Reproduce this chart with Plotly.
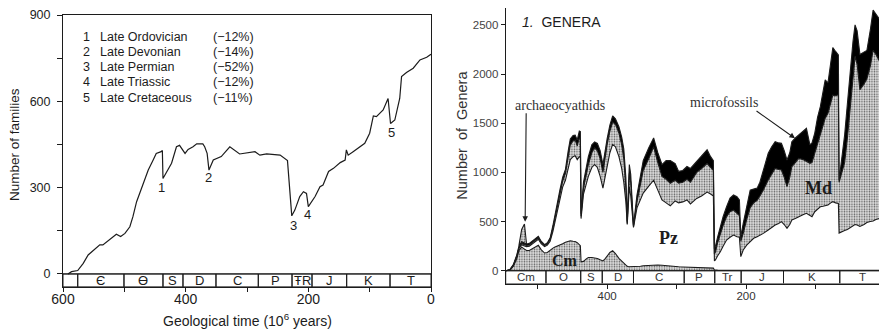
import plotly.graph_objects as go

# ---------------- Left panel: marine families ----------------
fam_ma = [592, 586, 576, 567, 559, 551, 540, 535, 524, 513, 506, 499, 491, 486, 480, 475, 467, 461,
          453, 448, 440, 438, 437, 431, 423, 415, 410, 401, 396, 388, 382, 372, 369, 365, 362, 355,
          342, 328, 312, 287, 279, 268, 246, 234, 231, 227, 222, 214, 208, 203, 200, 189, 181, 176,
          167, 159, 148, 140, 138, 135, 127, 108, 100, 94, 89, 78, 70, 66, 59, 51, 48, 40, 29, 18, 7, 0]
fam_n = [0, 8, 12, 37, 66, 81, 101, 101, 118, 138, 130, 141, 164, 199, 251, 280, 327, 361,
         396, 419, 425, 429, 332, 356, 385, 442, 447, 419, 433, 442, 452, 452, 442, 419, 361, 396,
         408, 442, 417, 425, 413, 417, 413, 394, 303, 202, 222, 269, 286, 280, 234, 269, 303, 309,
         356, 367, 387, 396, 431, 413, 425, 454, 489, 549, 547, 570, 610, 523, 535, 610, 686, 700, 715, 744, 753, 764]

events_no = ["1", "2", "3", "4", "5"]
events_ma = [438.6, 362, 225, 202, 65]
events_n = [302, 334, 170, 205, 493]
events_name = ["Late Ordovician", "Late Devonian", "Late Permian", "Late Triassic", "Late Cretaceous"]
events_pct = ["(\u221212%)", "(\u221214%)", "(\u221252%)", "(\u221212%)", "(\u221211%)"]

left_bounds = [600, 576, 500.6, 437, 404.4, 350.6, 281.6, 226.6, 194, 137.5, 66.8, 0]
left_periods = ["", "\u0404", "\u019f", "S", "D", "C", "P", "\u0166R", "J", "K", "T"]

# ---------------- Right panel: genera by evolutionary fauna ----------------
gen_ma = [546, 540, 535, 530, 527, 523, 520, 516, 512, 508, 503, 499, 495, 490, 486, 482, 478, 475, 471, 468,
          464, 460, 456, 453, 449, 446, 443, 440, 438.5, 437.5, 434, 430, 427, 422, 418, 414, 410, 406, 403, 400,
          396, 392, 388, 383, 379, 376, 373, 371, 369, 368, 366, 364, 362, 357, 352, 348, 340, 333, 327, 321,
          315, 309, 302, 297, 291, 285, 280, 271, 264, 256, 251, 247, 245.5, 244, 241, 237, 233, 228, 223, 218,
          213, 209.5, 207.5, 204, 199, 194, 189, 184, 180, 175, 168, 163, 158, 153, 149, 145, 141, 137, 134, 129,
          124, 118, 113, 108, 105, 101, 97, 93, 89, 86, 82, 78, 75, 71, 67, 66, 62, 58, 54, 50,
          46, 43, 40, 36, 30, 26, 21, 17, 13, 8, 4, 0]
cm_top = [0, 6, 45, 120, 205, 240, 225, 205, 205, 220, 245, 258, 215, 180, 185, 210, 230, 240, 250, 260,
          275, 290, 300, 305, 300, 298, 285, 265, 255, 90, 95, 120, 135, 135, 130, 125, 112, 100, 120, 150,
          185, 203, 175, 125, 95, 75, 55, 45, 40, 40, 40, 40, 40, 42, 45, 50, 55, 58, 58, 55,
          50, 45, 42, 40, 38, 36, 35, 33, 32, 30, 28, 26, 8, 6, 6, 5, 5, 5, 5, 5,
          5, 5, 5, 5, 5, 5, 5, 5, 5, 5, 5, 5, 5, 5, 5, 5, 5, 5, 5, 5,
          5, 5, 5, 5, 5, 5, 5, 5, 5, 5, 5, 5, 5, 5, 5, 5, 5, 5, 5, 5,
          5, 5, 5, 5, 5, 5, 5, 5, 5, 5, 5, 5]
pz_top = [0, 8, 52, 140, 225, 265, 255, 245, 250, 270, 300, 320, 275, 245, 260, 300, 400, 500, 620, 740,
          850, 920, 1040, 1130, 1160, 1170, 1130, 1160, 1150, 530, 780, 900, 960, 1050, 1080, 1050, 960, 840, 960, 1060,
          1200, 1285, 1260, 1160, 1040, 900, 700, 470, 700, 850, 760, 560, 440, 640, 720, 790, 860, 920, 820, 720,
          690, 660, 710, 690, 700, 720, 680, 735, 760, 800, 780, 760, 100, 110, 150, 193, 250, 312, 340, 363,
          346, 340, 143, 211, 260, 300, 330, 345, 360, 380, 414, 440, 465, 480, 499, 470, 431, 470, 516, 530,
          550, 570, 584, 560, 550, 600, 630, 650, 655, 660, 668, 690, 702, 690, 685, 383, 400, 410, 420, 440,
          460, 470, 465, 450, 470, 490, 500, 505, 520, 530, 540, 540]
md_top = [0, 10, 56, 150, 235, 278, 268, 258, 262, 283, 315, 335, 288, 255, 272, 320, 430, 540, 670, 790,
          910, 990, 1150, 1280, 1320, 1330, 1270, 1350, 1340, 555, 840, 1000, 1080, 1200, 1250, 1220, 1140, 1000, 1150, 1280,
          1420, 1510, 1490, 1400, 1280, 1140, 850, 480, 820, 990, 900, 620, 450, 700, 880, 1020, 1140, 1260, 1100, 960,
          930, 890, 920, 890, 900, 930, 900, 1000, 1040, 1090, 1050, 1020, 170, 190, 280, 380, 460, 549, 600, 617,
          583, 560, 300, 380, 520, 640, 690, 715, 760, 820, 923, 990, 1041, 1030, 1024, 950, 855, 950, 1058, 1100,
          1143, 1130, 1109, 1092, 1100, 1200, 1300, 1398, 1500, 1550, 1600, 1700, 1786, 1780, 1790, 900, 1000, 1100, 1350, 1650,
          1950, 2180, 2100, 1840, 1900, 1950, 2080, 2240, 2200, 2140, 2080, 2100]
total_top = [0, 12, 62, 160, 250, 295, 285, 272, 278, 298, 330, 350, 300, 265, 285, 335, 460, 580, 710, 820,
             950, 1030, 1220, 1340, 1375, 1380, 1330, 1420, 1415, 580, 900, 1070, 1160, 1280, 1310, 1295, 1220, 1080, 1230, 1340,
             1480, 1575, 1545, 1465, 1360, 1240, 950, 500, 900, 1080, 980, 700, 460, 770, 990, 1120, 1250, 1350, 1200, 1080,
             1120, 1120, 1090, 1010, 1020, 1060, 1040, 1110, 1170, 1230, 1160, 1120, 220, 250, 340, 448, 550, 651, 740, 770,
             753, 720, 346, 482, 650, 820, 830, 840, 900, 1024, 1194, 1260, 1312, 1300, 1296, 1220, 1126, 1200, 1312, 1350,
             1380, 1420, 1449, 1280, 1300, 1400, 1560, 1668, 1850, 1940, 1910, 2100, 2270, 2230, 2194, 920, 1150, 1380, 1700, 2050,
             2330, 2500, 2440, 2200, 2220, 2240, 2450, 2650, 2610, 2560, 2480, 2540]

arch_ma = [527, 523, 519, 516]
arch_hi = [255, 420, 475, 275]
arch_lo = [250, 295, 282, 272]

right_bounds = [546, 488, 438, 407, 362, 289, 245, 207, 146, 65, 0]
right_periods = ["Cm", "O", "S", "D", "C", "P", "Tr", "J", "K", "T"]

# The page body has an 8px margin: the figure is sized to fill the rest of the 887x329 window.
OFF = 8
W, H = 887 - OFF, 329 - OFF


def px(x):
    return min(1.0, max(0.0, (x - OFF) / W))


def py(y):
    return min(1.0, max(0.0, 1 - (y - OFF) / H))


SANS = "Liberation Sans, Arial, sans-serif"
SERIF = "Liberation Serif, Times New Roman, serif"
INK = "#1c1c1c"

fig = go.Figure()

# left line
fig.add_trace(go.Scatter(x=fam_ma, y=fam_n, mode="lines", line=dict(color=INK, width=1.2),
                         xaxis="x", yaxis="y", hoverinfo="skip"))

# right stacked bands
stip = dict(shape=".", fgcolor="#555555", bgcolor="#e0e0e0", size=2.5, solidity=0.3)
fig.add_trace(go.Scatter(x=gen_ma, y=cm_top, mode="lines", line=dict(color=INK, width=1.1),
                         fill="tozeroy", fillcolor="#d6d6d6", fillpattern=stip,
                         xaxis="x2", yaxis="y2", hoverinfo="skip"))
fig.add_trace(go.Scatter(x=gen_ma, y=pz_top, mode="lines", line=dict(color=INK, width=1.1),
                         xaxis="x2", yaxis="y2", hoverinfo="skip"))
fig.add_trace(go.Scatter(x=gen_ma, y=md_top, mode="lines", line=dict(color=INK, width=1.1),
                         fill="tonexty", fillcolor="#d6d6d6", fillpattern=stip,
                         xaxis="x2", yaxis="y2", hoverinfo="skip"))
fig.add_trace(go.Scatter(x=gen_ma, y=total_top, mode="lines", line=dict(color=INK, width=1.1),
                         fill="tonexty", fillcolor="#000000",
                         xaxis="x2", yaxis="y2", hoverinfo="skip"))
fig.add_trace(go.Scatter(x=arch_ma + arch_ma[::-1], y=arch_hi + arch_lo[::-1], mode="lines",
                         line=dict(color=INK, width=1.1), fill="toself", fillcolor="#d6d6d6", fillpattern=stip,
                         xaxis="x2", yaxis="y2", hoverinfo="skip"))

shapes = []
annotations = []

# left period bar
for i in range(len(left_periods)):
    shapes.append(dict(type="rect", xref="x", yref="y", x0=left_bounds[i], x1=left_bounds[i + 1],
                       y0=-45, y1=0, line=dict(color=INK, width=1)))
    if left_periods[i]:
        annotations.append(dict(xref="x", yref="y", x=(left_bounds[i] + left_bounds[i + 1]) / 2, y=-22,
                                text=left_periods[i], showarrow=False, xanchor="center", yanchor="middle",
                                font=dict(family=SANS, size=13, color=INK)))
# right period bar
for i in range(len(right_periods)):
    shapes.append(dict(type="rect", xref="x2", yref="y2", x0=right_bounds[i], x1=right_bounds[i + 1],
                       y0=-130, y1=0, line=dict(color=INK, width=1)))
    annotations.append(dict(xref="x2", yref="y2", x=(right_bounds[i] + right_bounds[i + 1]) / 2, y=-62,
                            text=right_periods[i], showarrow=False, xanchor="center", yanchor="middle",
                            font=dict(family=SANS, size=11.5, color="#333")))

# event numbers
for no, xm, yn in zip(events_no, events_ma, events_n):
    annotations.append(dict(xref="x", yref="y", x=xm, y=yn, text=no, showarrow=False,
                            xanchor="center", yanchor="middle",
                            font=dict(family=SANS, size=13, color=INK)))
# event legend
leg_y = [823, 771, 719, 667, 613]
for no, nm, pc, yy in zip(events_no, events_name, events_pct, leg_y):
    annotations.append(dict(xref="x", yref="y", x=562.5, y=yy, text=no, showarrow=False,
                            xanchor="center", yanchor="middle",
                            font=dict(family=SANS, size=12.5, color=INK)))
    annotations.append(dict(xref="x", yref="y", x=543, y=yy, text=nm, showarrow=False,
                            xanchor="left", yanchor="middle",
                            font=dict(family=SANS, size=12.5, color=INK)))
    annotations.append(dict(xref="x", yref="y", x=358, y=yy, text=pc, showarrow=False,
                            xanchor="left", yanchor="middle",
                            font=dict(family=SANS, size=12.5, color=INK)))

# axis titles and panel texts
annotations += [
    dict(xref="paper", yref="paper", x=px(15), y=py(145), text="Number of families", textangle=-90,
         xanchor="center", yanchor="middle", showarrow=False, font=dict(family=SANS, size=13.5, color=INK)),
    dict(xref="paper", yref="paper", x=px(247), y=py(320), text="Geological time (10<sup>6</sup> years)",
         xanchor="center", yanchor="middle", showarrow=False, font=dict(family=SANS, size=14, color=INK)),
    dict(xref="paper", yref="paper", x=px(461.7), y=py(135), text="Number  of  Genera", textangle=-90,
         xanchor="center", yanchor="middle", showarrow=False, font=dict(family=SANS, size=14.5, color="#333")),
    dict(xref="x2", yref="y2", x=525, y=2530, text="<i>1.</i>  GENERA", xanchor="left", yanchor="middle",
         showarrow=False, font=dict(family=SANS, size=14, color=INK)),
    dict(xref="x2", yref="y2", x=468, y=1683, text="archaeocyathids", showarrow=False,
         xanchor="center", yanchor="middle", font=dict(family=SERIF, size=14, color="#333")),
    dict(xref="x2", yref="y2", x=518, y=499, ax=516.5, ay=1617, axref="x2", ayref="y2", text="",
         showarrow=True, arrowhead=2, arrowsize=1, arrowwidth=1.1, arrowcolor=INK),
    dict(xref="x2", yref="y2", x=232, y=1715, text="microfossils", showarrow=False,
         xanchor="center", yanchor="middle", font=dict(family=SERIF, size=14, color="#333")),
    dict(xref="x2", yref="y2", x=129.5, y=1347, ax=187, ay=1635, axref="x2", ayref="y2", text="",
         showarrow=True, arrowhead=2, arrowsize=1, arrowwidth=1.1, arrowcolor=INK),
    dict(xref="x2", yref="y2", x=96, y=841, text="<b>Md</b>", showarrow=False,
         xanchor="center", yanchor="middle", font=dict(family=SERIF, size=18, color=INK)),
    dict(xref="x2", yref="y2", x=311, y=333, text="<b>Pz</b>", showarrow=False,
         xanchor="center", yanchor="middle", font=dict(family=SERIF, size=18, color=INK)),
    dict(xref="x2", yref="y2", x=460, y=109, text="<b>Cm</b>", showarrow=False,
         xanchor="center", yanchor="middle", font=dict(family=SERIF, size=16, color=INK)),
]

# zero lines across full width (top of period bars)
shapes.append(dict(type="line", xref="x", yref="y", x0=600, x1=0, y0=0, y1=0, line=dict(color=INK, width=1)))
shapes.append(dict(type="line", xref="x2", yref="y2", x0=546, x1=-3, y0=0, y1=0, line=dict(color=INK, width=1)))

axis_common = dict(showgrid=False, zeroline=False, showline=True, mirror=True, linecolor=INK, linewidth=1,
                   ticks="outside", tickcolor=INK, tickwidth=1, automargin=False)

fig.update_layout(
    template="none",
    width=W, height=H, margin=dict(l=0, r=0, t=0, b=0, autoexpand=False),
    paper_bgcolor="white", plot_bgcolor="white", showlegend=False,
    xaxis=dict(domain=[px(63), px(431)], range=[600, 0], anchor="y", ticklen=4, ticklabelstandoff=-5,
               tickvals=[600, 500, 400, 300, 200, 100, 0], ticktext=["600", "", "400", "", "200", "", "0"],
               tickfont=dict(family=SANS, size=14, color=INK), **axis_common),
    yaxis=dict(domain=[py(286.9), py(15)], range=[-45, 900], anchor="x", ticklen=5, ticklabelstandoff=4,
               tickvals=[0, 150, 300, 450, 600, 750, 900], ticktext=["0", "", "300", "", "600", "", "900"],
               tickfont=dict(family=SANS, size=12.5, color=INK), **axis_common),
    xaxis2=dict(domain=[px(505.7), 1.0], range=[546, -3], anchor="y2", ticklen=4, ticklabelstandoff=-2,
                tickvals=[500, 400, 300, 200, 100, 0], ticktext=["", "400", "", "200", "", "0"],
                tickfont=dict(family=SANS, size=11.5, color="#333"), **axis_common),
    yaxis2=dict(domain=[py(283.5), 1.0], range=[-130, 2672], anchor="x2", ticklen=4,
                tickvals=[0, 500, 1000, 1500, 2000, 2500],
                tickfont=dict(family=SANS, size=11.5, color="#444"), **axis_common),
    shapes=shapes, annotations=annotations,
)

fig.write_html("out.html")
